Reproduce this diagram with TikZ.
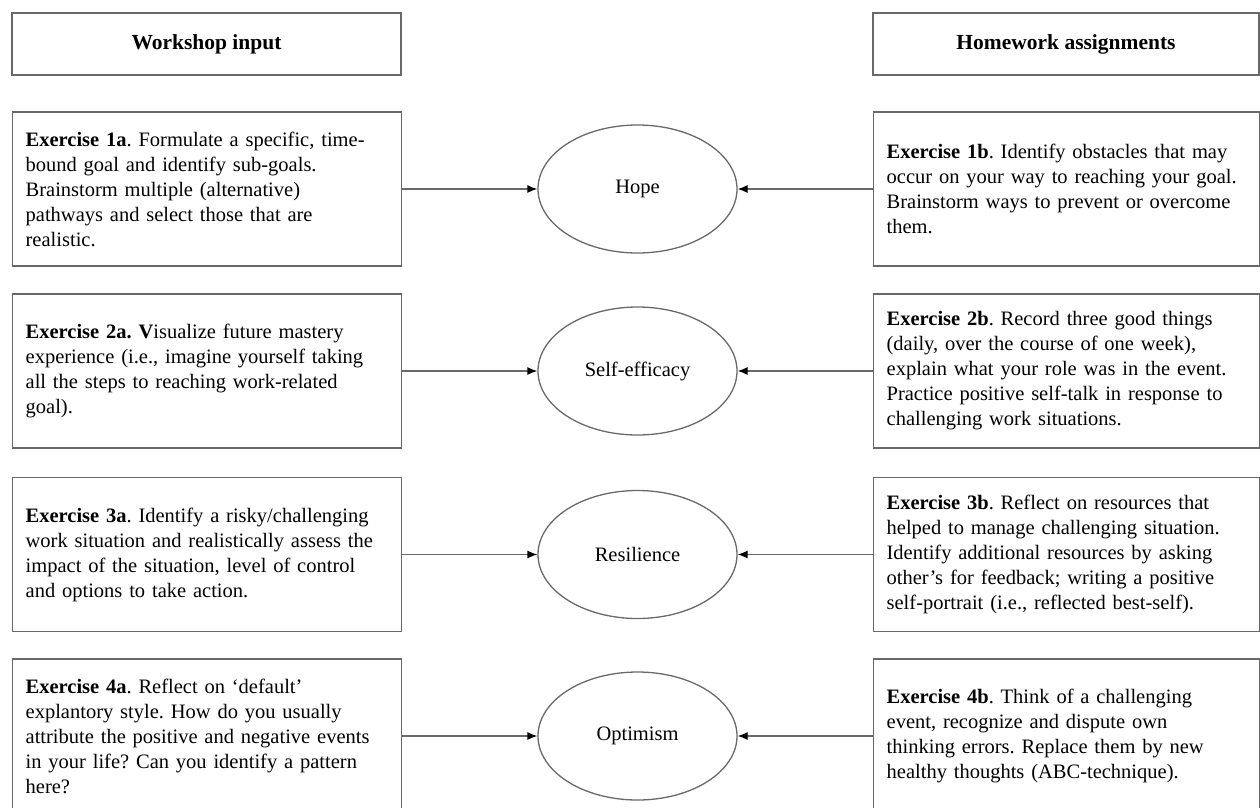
\documentclass[tikz,border=0pt]{standalone}
\usepackage{fontspec}
\setmainfont{Liberation Serif}
\usetikzlibrary{arrows.meta,shapes.geometric}
\definecolor{linegray}{RGB}{105,105,105}
\tikzset{
  txt/.style={font=\fontsize{20.5}{25}\selectfont\frenchspacing},
  head/.style={draw=linegray,line width=1.3pt,minimum height=62pt,font=\fontsize{21.5}{25}\selectfont\bfseries},
  exbox/.style={txt,draw=linegray,line width=1.3pt,align=left,minimum height=154pt,inner xsep=13pt,inner ysep=0pt,anchor=west},
  leftbox/.style={exbox,text width=363pt},
  rightbox/.style={exbox,text width=360pt},
  factor/.style={txt,ellipse,draw=linegray,line width=1.3pt,minimum width=199pt,minimum height=128pt,inner sep=0pt},
  link/.style={draw=linegray,line width=1.3pt,-{Latex[length=10pt,width=8pt,color=black]}}
}
\begin{document}
\begin{tikzpicture}[x=1pt,y=-1pt]
	\clip (0,0) rectangle (1260,807);

	% column headers
	\node[head,minimum width=389pt] (whead) at (206.5,44) {Workshop input};
	\node[head,minimum width=386pt] (hhead) at (1066,44) {Homework assignments};

	% workshop input
	\node[leftbox] (ws1) at (12,189) {\textbf{Exercise 1a}. Formulate a specific, time-\\bound goal and identify sub-goals.\\Brainstorm multiple (alternative)\\pathways and select those that are\\realistic.};
	\node[leftbox] (ws2) at (12,371) {\textbf{Exercise 2a. V}isualize  future mastery\\experience (i.e., imagine yourself taking\\all the steps to reaching work-related\\goal).};
	\node[leftbox] (ws3) at (12,554.5) {\textbf{Exercise 3a}. Identify a risky/challenging\\work situation and realistically assess the\\impact of the situation, level of control\\and options to take action.};
	\node[leftbox] (ws4) at (12,736) {\textbf{Exercise 4a}. Reflect on ‘default’\\explantory style. How do you usually\\attribute the positive and negative events\\in your life? Can you identify a pattern\\here?};

	% capacities
	\node[factor] (cap1) at (637.5,189) {Hope};
	\node[factor] (cap2) at (637.5,371) {Self-efficacy};
	\node[factor] (cap3) at (637.5,554.5) {Resilience};
	\node[factor] (cap4) at (637.5,736) {Optimism};

	% homework
	\node[rightbox] (hw1) at (873,189) {\textbf{Exercise 1b}. Identify obstacles that may\\occur on your way to reaching your goal.\\Brainstorm ways to prevent or overcome\\them.};
	\node[rightbox] (hw2) at (873,371) {\textbf{Exercise 2b}. Record three good things\\(daily, over the course of one week),\\explain what your role was in the event.\\Practice positive self-talk in response to\\challenging work situations.};
	\node[rightbox] (hw3) at (873,554.5) {\textbf{Exercise 3b}. Reflect on resources that\\helped to manage challenging situation.\\Identify additional resources by asking\\other’s for feedback; writing a positive\\self-portrait (i.e., reflected best-self).};
	\node[rightbox] (hw4) at (873,736) {\textbf{Exercise 4b}. Think of a challenging\\event, recognize and dispute own\\thinking errors. Replace them by new\\healthy thoughts (ABC-technique).};

	\foreach \n in {1,2,3,4}{
		\draw[link] (ws\n.east) -- (cap\n.west);
		\draw[link] (hw\n.west) -- (cap\n.east);
	}
\end{tikzpicture}
\end{document}
